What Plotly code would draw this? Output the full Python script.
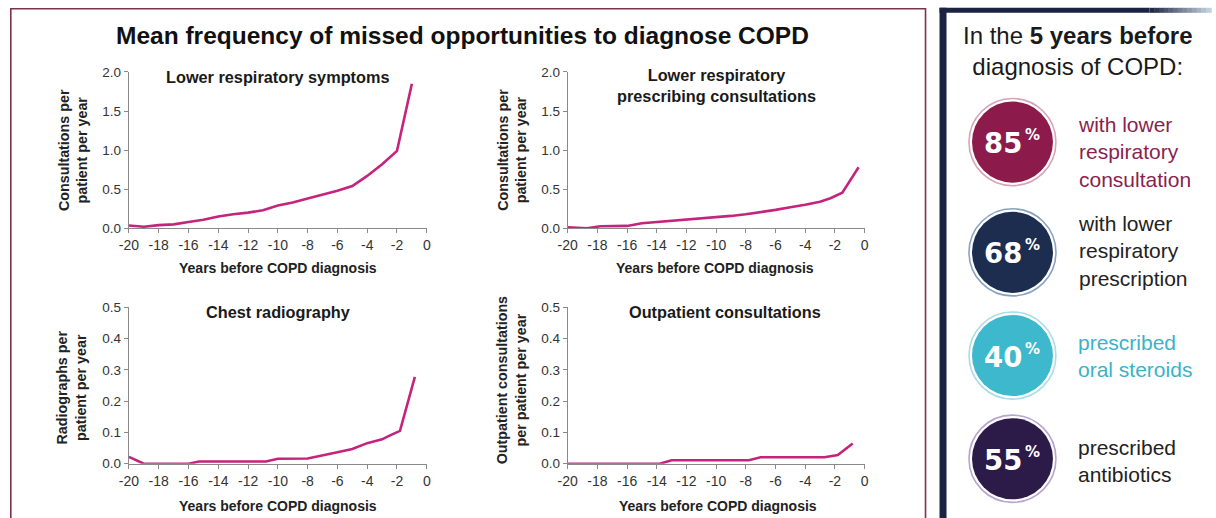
import plotly.graph_objects as go

W, H = 1216, 518

# ---------------- data ----------------
years_symptoms = [-20, -19, -18, -17, -16, -15, -14, -13, -12, -11, -10, -9, -8, -7, -6, -5, -4, -3, -2, -1]
symptoms = [0.035, 0.02, 0.04, 0.05, 0.08, 0.11, 0.15, 0.18, 0.20, 0.23, 0.29, 0.33, 0.38, 0.43, 0.48, 0.54, 0.67, 0.82, 0.99, 1.85]

years_prescribing = [-20, -18.7, -17.8, -17, -16, -15, -14, -13, -12, -11, -10, -9, -8, -7, -6, -5, -4, -3, -2.3, -1.5, -0.4]
prescribing = [0.012, 0.0, 0.025, 0.03, 0.03, 0.065, 0.08, 0.098, 0.115, 0.128, 0.142, 0.158, 0.18, 0.205, 0.235, 0.27, 0.30, 0.34, 0.385, 0.455, 0.78]

years_radiography = [-20, -19, -16, -15.3, -10.8, -10, -8, -7, -6, -5, -4, -3.5, -3, -2.5, -1.8, -0.8]
radiography = [0.022, 0.0, 0.0, 0.007, 0.007, 0.016, 0.017, 0.026, 0.037, 0.047, 0.066, 0.072, 0.078, 0.09, 0.105, 0.278]

years_outpatient = [-20, -13.8, -13, -7.8, -7, -2.7, -1.8, -0.8]
outpatient = [0.0, 0.0, 0.011, 0.011, 0.021, 0.021, 0.028, 0.065]

x_tickvals = [-20, -18, -16, -14, -12, -10, -8, -6, -4, -2, 0]
x_ticktext = ["-20", "-18", "-16", "-14", "-12", "-10", "-8", "-6", "-4", "-2", "0"]
y_top_tickvals = [0, 0.5, 1.0, 1.5, 2.0]
y_top_ticktext = ["0.0", "0.5", "1.0", "1.5", "2.0"]
y_bot_tickvals = [0, 0.1, 0.2, 0.3, 0.4, 0.5]
y_bot_ticktext = ["0.0", "0.1", "0.2", "0.3", "0.4", "0.5"]

panel_titles = ["Lower respiratory symptoms", "Lower respiratory<br>prescribing consultations",
                "Chest radiography", "Outpatient consultations"]
y_titles = ["Consultations per<br>patient per year", "Consultations per<br>patient per year",
            "Radiographs per<br>patient per year", "Outpatient consultations<br>per patient per year"]
x_title = "Years before COPD diagnosis"
main_title = "Mean frequency of missed opportunities to diagnose COPD"

stat_values = ["85", "68", "40", "55"]
stat_labels = ["with lower<br>respiratory<br>consultation",
               "with lower<br>respiratory<br>prescription",
               "prescribed<br>oral steroids",
               "prescribed<br>antibiotics"]

# ---------------- placement helpers (target picture pixel -> paper) ----------------
SX, OX = 0.989, 10.0
SY, OY = 0.969, 7.2

def fx(x):
    return (x - OX) / SX

def fy(y):
    return (y - OY) / SY

def px(x):
    return fx(x) / W

def py(y):
    return 1 - fy(y) / H

LINE = "#c4247c"
FONT = "Liberation Sans"
AX = "#8a8a8a"
TXT = "#333333"

fig = go.Figure()
series = [(years_symptoms, symptoms), (years_prescribing, prescribing),
          (years_radiography, radiography), (years_outpatient, outpatient)]
for i, (xs, ys) in enumerate(series):
    sfx = "" if i == 0 else str(i + 1)
    fig.add_trace(go.Scatter(x=xs, y=ys, mode="lines", line=dict(color=LINE, width=2.6),
                             xaxis="x" + sfx, yaxis="y" + sfx, showlegend=False, hoverinfo="skip"))

boxes = [(129, 427, 72, 228), (568, 865, 72, 228), (129, 427, 307, 463), (568, 865, 307, 463)]

layout = dict(width=W, height=H, margin=dict(l=0, r=0, t=0, b=0, pad=0), autosize=False,
              paper_bgcolor="white", plot_bgcolor="white", showlegend=False,
              font=dict(family=FONT, color=TXT))

for i, (l, r, t, b) in enumerate(boxes):
    sfx = "" if i == 0 else str(i + 1)
    top = i < 2
    layout["xaxis" + sfx] = dict(domain=[px(l), px(r)], range=[-20, 0], anchor="y" + sfx,
                                 tickvals=x_tickvals, ticktext=x_ticktext, showgrid=False,
                                 zeroline=False, showline=True, linecolor=AX, linewidth=1.2,
                                 ticks="outside", ticklen=4, tickcolor=AX,
                                 tickfont=dict(size=14, color=TXT, family=FONT), fixedrange=True)
    layout["yaxis" + sfx] = dict(domain=[py(b), py(t)], range=[0, 2.0] if top else [0, 0.5],
                                 anchor="x" + sfx,
                                 tickvals=y_top_tickvals if top else y_bot_tickvals,
                                 ticktext=y_top_ticktext if top else y_bot_ticktext,
                                 showgrid=False, zeroline=False, showline=True, linecolor=AX,
                                 linewidth=1.2, ticks="outside", ticklen=4, tickcolor=AX,
                                 tickfont=dict(size=13.5, color=TXT, family=FONT), fixedrange=True)

fig.update_layout(**layout)

def note(x, y, text, size, color, xanchor="center", angle=0, family=FONT, align="center"):
    fig.add_annotation(x=px(x), y=py(y), xref="paper", yref="paper", text=text, showarrow=False,
                       xanchor=xanchor, yanchor="middle", textangle=angle, align=align,
                       font=dict(size=size, color=color, family=family))

# main title
note(463, 36, "<b>" + main_title + "</b>", 24.5, "#111111")

title_pos = [(278, 77), (717, 86), (278, 312), (725, 312)]
for (x, y), t in zip(title_pos, panel_titles):
    note(x, y, "<b>" + t + "</b>", 16.3, "#1a1a1a")
xt_pos = [(278, 268), (715, 268), (278, 505), (718, 505)]
for (x, y) in xt_pos:
    note(x, y, "<b>" + x_title + "</b>", 14, "#222222")
yt_pos = [(73, 150), (512, 150), (72, 387), (512, 380)]
for (x, y), t in zip(yt_pos, y_titles):
    note(x, y, "<b>" + t + "</b>", 14.3, "#222222", angle=-90)

note(1078, 51, "In the <b>5 years before</b><br>diagnosis of COPD:", 24, "#1a1a1a")

circle_y = [142, 252, 355, 458]
circle_fill = ["#8c1a4b", "#1d2d50", "#3db8cd", "#2c1a48"]
circle_ring = ["#d6a3b9", "#86a4c0", "#a9dde7", "#b9a3cf"]
label_color = ["#8a1f4f", "#222222", "#3bb2c8", "#222222"]
label_y = [152, 251, 355, 460]
cx = 1013

shapes = []
# left framed box
shapes.append(dict(type="rect", xref="paper", yref="paper", x0=0.8 / W, x1=px(926), y0=-0.02, y1=py(9),
                   line=dict(color="#7a3348", width=1.6), fillcolor="rgba(0,0,0,0)", layer="below"))
navy = (27, 35, 66)
light = (214, 228, 238)
shapes.append(dict(type="rect", xref="paper", yref="paper", x0=px(940), x1=px(947), y0=-0.02, y1=py(8),
                   line=dict(width=0), fillcolor="rgb(27,35,66)"))
shapes.append(dict(type="rect", xref="paper", yref="paper", x0=px(940), x1=px(1150), y0=py(13), y1=py(8),
                   line=dict(width=0), fillcolor="rgb(27,35,66)"))
steps = 14
for k in range(steps):
    f = (k + 0.5) / steps
    c = tuple(int(navy[j] + (light[j] - navy[j]) * f) for j in range(3))
    x0 = 1150 + (1216 - 1150) * k / steps
    x1 = 1150 + (1216 - 1150) * (k + 1) / steps + 0.5
    shapes.append(dict(type="rect", xref="paper", yref="paper", x0=px(x0), x1=min(px(x1), 1.0),
                       y0=py(13), y1=py(8), line=dict(width=0), fillcolor="rgb(%d,%d,%d)" % c))

for i in range(4):
    cy = circle_y[i]
    ro, ri = 43.5, 40.5
    shapes.append(dict(type="circle", xref="paper", yref="paper", x0=px(cx - ro), x1=px(cx + ro),
                       y0=py(cy + ro), y1=py(cy - ro), line=dict(color=circle_ring[i], width=1.6),
                       fillcolor="white"))
    shapes.append(dict(type="circle", xref="paper", yref="paper", x0=px(cx - ri), x1=px(cx + ri),
                       y0=py(cy + ri), y1=py(cy - ri), line=dict(width=0), fillcolor=circle_fill[i]))
    note(cx - 9, cy + 1, "<b>" + stat_values[i] + "</b>", 27.5, "white", family="DejaVu Sans")
    note(cx + 20, cy - 7, "<b>%</b>", 15, "white", family="DejaVu Sans")
    note(1077, label_y[i], stat_labels[i], 21, label_color[i], xanchor="left", align="left")

fig.update_layout(shapes=shapes)
fig.write_html(
    "out.html",
    config={"displayModeBar": False},
    post_script=(
        "document.documentElement.style.margin='0';document.documentElement.style.overflow='hidden';"
        "document.body.style.margin='0';document.body.style.padding='0';document.body.style.overflow='hidden';"
        "var d=document.getElementById('{plot_id}');d.style.position='fixed';d.style.left='0px';d.style.top='0px';"
    ),
)
